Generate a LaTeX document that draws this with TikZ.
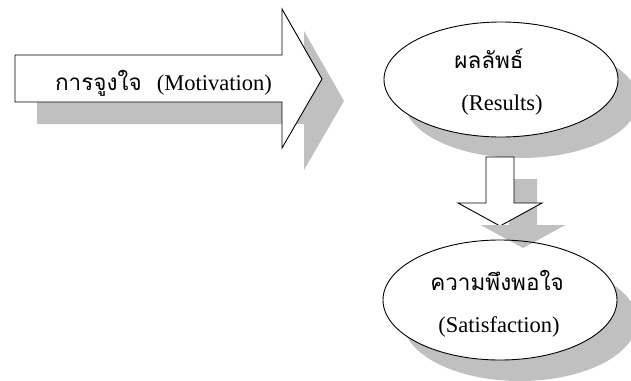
\documentclass[tikz,border=0pt]{standalone}
\usepackage{fontspec}
\setmainfont{Liberation Serif}
\newfontfamily\thaifont[Script=Thai]{Loma}
\definecolor{shadowgray}{RGB}{192,192,192}
\tikzset{
  shadowfill/.style={fill=shadowgray, draw=none},
  shapebox/.style={fill=white, draw=black, line width=0.9pt, line join=miter},
  lbl/.style={anchor=base, inner sep=0pt, font=\fontsize{22.5}{27}\selectfont},
  thlbl/.style={anchor=base, inner sep=0pt, font=\thaifont\fontsize{22.5}{27}\selectfont},
}
\begin{document}
\begin{tikzpicture}[x=1pt,y=-1pt]
\useasboundingbox (0,0) rectangle (631,380);
% big arrow shadow + arrow
\fill[shadowfill, shift={(22,22)}] (15,55) -- (282,55) -- (282,9) -- (322,79) -- (282,148) -- (282,102) -- (15,102) -- cycle;
\draw[shapebox] (15,55) -- (282,55) -- (282,9) -- (322,79) -- (282,148) -- (282,102) -- (15,102) -- cycle;
% ellipse 1
\fill[shadowfill] (521,100.5) ellipse [x radius=117, y radius=57.5];
\draw[shapebox] (501,79.5) ellipse [x radius=117, y radius=57.5];
% down arrow
\fill[shadowfill, shift={(23,22)}] (486,157) -- (514,157) -- (514,203) -- (542,203) -- (500,226) -- (458,203) -- (486,203) -- cycle;
\draw[shapebox] (486,157) -- (514,157) -- (514,203) -- (542,203) -- (500,226) -- (458,203) -- (486,203) -- cycle;
% ellipse 2
\fill[shadowfill] (520,321) ellipse [x radius=117, y radius=60];
\fill[white] (500,300) ellipse [x radius=117, y radius=60];
\fill[shadowfill, shift={(23,22)}] (514,203) -- (542,203) -- (500,226) -- (458,203) -- (486,203) -- cycle;
\draw[black, line width=0.9pt] (500,300) ellipse [x radius=117, y radius=60];
% texts
\node[thlbl, anchor=base east] (motth) at (142,90) {การจูงใจ};
\node[lbl, anchor=base east] (moten) at (272,90) {(Motivation)};
\node[thlbl] (resth) at (489,68) {ผลลัพธ์};
\node[lbl] (resen) at (502,110) {(Results)};
\node[thlbl] (satth) at (497,290) {ความพึงพอใจ};
\node[lbl] (saten) at (499,332) {(Satisfaction)};
\end{tikzpicture}
\end{document}
